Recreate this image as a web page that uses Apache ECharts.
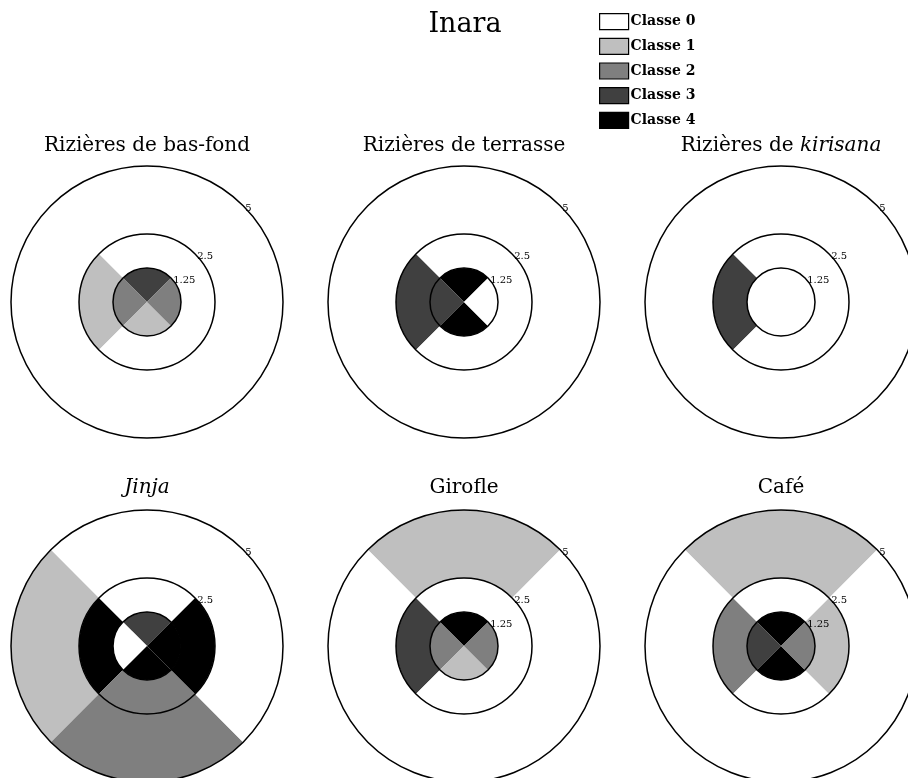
<!DOCTYPE html>
<html><head><meta charset="utf-8">
<script src="https://cdn.jsdelivr.net/npm/echarts@6/dist/echarts.min.js"></script>
<style>html,body{margin:0;padding:0;background:#fff}#c{width:908px;height:778px}</style>
</head><body><div id="c"></div>
<script>
// ---------- data ----------
const mainTitle = 'Inara';
const panelTitles = ['Rizières de bas-fond', 'Rizières de terrasse', 'Rizières de {i|kirisana}', '{i|Jinja}', 'Girofle', 'Café'];
const directions = ['N', 'O', 'S', 'E'];           // top, left, bottom, right
const ringEdges = [1.25, 2.5, 5];                   // radius tick labels / ring limits
const classNames = ['Classe 0', 'Classe 1', 'Classe 2', 'Classe 3', 'Classe 4'];
// class of each cell: rows = rings (inner, middle, outer), columns = directions
const basFond  = [[3, 2, 1, 2], [0, 1, 0, 0], [0, 0, 0, 0]];
const terrasse = [[4, 3, 4, 0], [0, 3, 0, 0], [0, 0, 0, 0]];
const kirisana = [[0, 0, 0, 0], [0, 3, 0, 0], [0, 0, 0, 0]];
const jinja    = [[3, 0, 4, 4], [0, 4, 2, 4], [0, 1, 2, 0]];
const girofle  = [[4, 2, 1, 2], [0, 3, 0, 0], [1, 0, 0, 0]];
const cafe     = [[4, 3, 4, 2], [0, 2, 0, 1], [1, 0, 0, 0]];

// ---------- style / layout ----------
const classColors = ['#ffffff', '#bfbfbf', '#7f7f7f', '#404040', '#000000'];
const FONT = '"DejaVu Serif", serif';
const panels = [basFond, terrasse, kirisana, jinja, girofle, cafe];
const colX = [147, 464, 781];
const rowY = [302, 646];
const titleY = [146, 488];
const R = 136;

const ringWidths = ringEdges.map((e, i) => e - (i ? ringEdges[i - 1] : 0));
const shownTicks = ringEdges.map(String);

const polar = [], angleAxis = [], radiusAxis = [], series = [];
const title = [{
  text: mainTitle, left: 465, top: 25, textAlign: 'center', textVerticalAlign: 'middle', padding: 0,
  textStyle: { fontFamily: FONT, fontSize: 27, fontWeight: 'normal', color: '#000' }
}];

panels.forEach((grid, p) => {
  const cx = colX[p % 3], cy = rowY[Math.floor(p / 3)];
  polar.push({ center: [cx, cy], radius: R });
  angleAxis.push({
    polarIndex: p, type: 'category', data: directions, startAngle: 45, clockwise: false,
    boundaryGap: true, axisLine: { show: false }, axisTick: { show: false },
    axisLabel: { show: false }, splitLine: { show: false }, splitArea: { show: false }
  });
  radiusAxis.push({
    polarIndex: p, type: 'value', min: 0, max: 5, interval: 1.25, z: 10,
    axisLine: { show: false }, axisTick: { show: false }, splitArea: { show: false },
    splitLine: { show: true, lineStyle: { color: ['rgba(0,0,0,0)', '#000', '#000', 'rgba(0,0,0,0)', '#000'], width: 1.5 } },
    axisLabel: {
      show: true, margin: -3, align: 'left', verticalAlign: 'middle',
      fontFamily: FONT, fontSize: 10, color: '#000',
      formatter: v => shownTicks.indexOf(String(v)) >= 0 ? String(v) : ''
    }
  });
  title.push({
    text: panelTitles[p], left: cx, top: titleY[Math.floor(p / 3)], textAlign: 'center', textVerticalAlign: 'middle', padding: 0,
    textStyle: { fontFamily: FONT, fontSize: 20, fontWeight: 'normal', color: '#000',
      rich: { i: { fontFamily: FONT, fontSize: 20, fontStyle: 'italic', color: '#000' } } }
  });
  grid.forEach((ringClasses, r) => {
    series.push({
      type: 'bar', coordinateSystem: 'polar', polarIndex: p, stack: 'p' + p,
      barCategoryGap: '0%', silent: true,
      data: ringClasses.map(c => ({ value: ringWidths[r], itemStyle: { color: classColors[c] } }))
    });
  });
});

classNames.forEach((n, k) => series.push({
  type: 'bar', name: n, coordinateSystem: 'polar', polarIndex: 0, stack: 'p0',
  data: [], itemStyle: { color: classColors[k] }
}));

const chart = echarts.init(document.getElementById('c'), null, { renderer: 'canvas' });
chart.setOption({
  animation: false,
  backgroundColor: '#fff',
  title, polar, angleAxis, radiusAxis, series,
  tooltip: { show: false },
  legend: {
    data: classNames, orient: 'vertical', left: 599, top: 13, padding: 0,
    itemWidth: 29, itemHeight: 16, itemGap: 7.5, selectedMode: false,
    icon: 'rect',
    itemStyle: { borderColor: '#000', borderWidth: 1.2 },
    textStyle: { fontFamily: FONT, fontSize: 14, fontWeight: 'bold', color: '#000', padding: [0, 0, 0, -3] }
  }
});
</script></body></html>
